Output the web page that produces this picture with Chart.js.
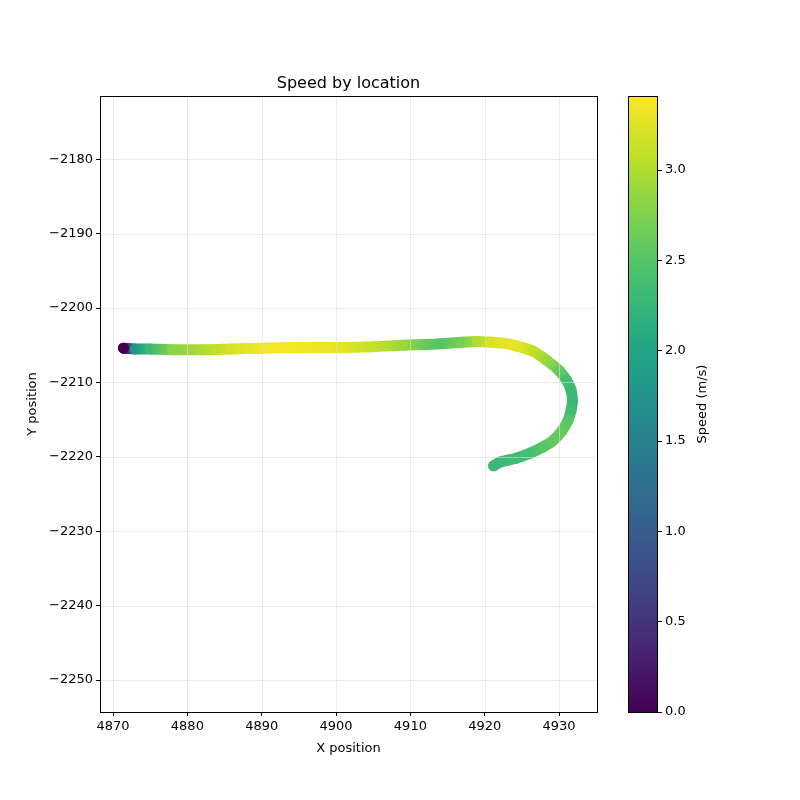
<!DOCTYPE html>
<html><head><meta charset="utf-8">
<script src="https://cdn.jsdelivr.net/npm/chart.js@4"></script>
<style>body{margin:0;background:#fff}#w{position:relative;width:800px;height:800px}
canvas{position:absolute;top:0}</style></head>
<body><div id="w"><canvas id="c" style="left:0" width="800" height="800"></canvas><canvas id="cb" style="left:600px" width="200" height="800"></canvas></div>
<script>
const xPos = [4871.4,4873,4875,4878,4882,4886,4890,4895,4900,4905,4909,4912,4914,4917,4919,4920.9,4923,4924.3,4926.5,4928.3,4930,4931,4931.6,4931.8,4931.6,4931.2,4930.4,4929.2,4927.8,4926.1,4924.2,4922.1,4921.2];
const yPos = [-2205.4,-2205.5,-2205.5,-2205.6,-2205.6,-2205.5,-2205.4,-2205.3,-2205.3,-2205.2,-2205.0,-2204.9,-2204.8,-2204.6,-2204.5,-2204.6,-2204.8,-2205.1,-2205.8,-2207.0,-2208.4,-2209.7,-2211.0,-2212.4,-2213.8,-2215.1,-2216.5,-2217.8,-2218.7,-2219.5,-2220.2,-2220.7,-2221.2];
const speed = [0.0,1.8,2.3,2.8,3.0,3.2,3.35,3.35,3.3,3.1,2.9,2.6,2.5,2.7,3.0,3.2,3.3,3.3,3.1,2.9,2.6,2.4,2.3,2.3,2.35,2.5,2.6,2.6,2.5,2.4,2.35,2.3,2.3];
const xTicks = [4870,4880,4890,4900,4910,4920,4930];
const yTicks = [-2250,-2240,-2230,-2220,-2210,-2200,-2190,-2180];
const cbTicks = [0,0.5,1,1.5,2,2.5,3];
const VMAX = 3.41;
const vir = [[68,1,84],[72,36,117],[65,68,135],[53,95,141],[42,120,142],[33,145,140],[34,168,132],[68,191,112],[122,209,81],[189,223,38],[253,231,37]];
function viridis(t){t=Math.max(0,Math.min(1,t))*(vir.length-1);const i=Math.min(Math.floor(t),vir.length-2),f=t-i;
 const c=vir[i].map((v,k)=>Math.round(v+(vir[i+1][k]-v)*f));return `rgb(${c[0]},${c[1]},${c[2]})`;}
const pts = xPos.map((x,i)=>({x,y:yPos[i]}));
const last = pts.length-1;
const minus = v => String(v).replace('-','\u2212');
const gridCol='rgba(220,220,220,0.6)';
const F='"DejaVu Sans", sans-serif';
Chart.defaults.font.family=F; Chart.defaults.font.size=13; Chart.defaults.color='#000';
let mainCtx=null;
function segColor(s){const i=s.p0DataIndex;if(!mainCtx)return viridis(speed[i]/VMAX);
 const g=mainCtx.createLinearGradient(s.p0.x,s.p0.y,s.p1.x,s.p1.y);
 g.addColorStop(0,viridis(speed[i]/VMAX));g.addColorStop(1,viridis(speed[i+1]/VMAX));return g;}
const deco={id:'deco',beforeInit(ch){mainCtx=ch.ctx;},afterDatasetsDraw(ch){const c=ch.ctx,a=ch.chartArea,xs=ch.scales.x,ys=ch.scales.y;
 c.save();c.strokeStyle=gridCol;c.lineWidth=1;
 xTicks.forEach(t=>{const p=Math.round(xs.getPixelForValue(t))+0.5;c.beginPath();c.moveTo(p,a.top);c.lineTo(p,a.bottom);c.stroke();});
 yTicks.forEach(t=>{const p=Math.round(ys.getPixelForValue(t))+0.5;c.beginPath();c.moveTo(a.left,p);c.lineTo(a.right,p);c.stroke();});
 c.strokeStyle='#000';c.strokeRect(a.left+0.5,a.top+0.5,a.right-a.left,a.bottom-a.top);
 c.fillStyle='#000';c.textAlign='center';c.font='16px '+F;c.fillText('Speed by location',(a.left+a.right)/2,88);
 c.font='13px '+F;c.fillText('X position',(a.left+a.right)/2,752);
 c.translate(36,(a.top+a.bottom)/2);c.rotate(-Math.PI/2);c.fillText('Y position',0,0);c.restore();}};
new Chart(document.getElementById('c'),{type:'scatter',
 data:{datasets:[
  {order:2,data:pts,showLine:true,tension:0.3,pointRadius:0,borderWidth:11,borderCapStyle:'round',borderJoinStyle:'round',
   segment:{borderColor:segColor},borderColor:viridis(0.9)},
  {order:1,data:[pts[0],pts[last]],pointRadius:5.5,pointBackgroundColor:[viridis(speed[0]/VMAX),viridis(speed[last]/VMAX)],pointBorderWidth:0}]},
 options:{responsive:false,animation:false,layout:{padding:{top:96,right:203,left:0,bottom:0}},
  plugins:{legend:{display:false},tooltip:{enabled:false}},
  scales:{
   x:{type:'linear',min:4868.25,max:4935.1,afterBuildTicks:s=>{s.ticks=xTicks.map(v=>({value:v}));},
    afterFit:s=>{s.height=88;},border:{display:false},
    grid:{display:true,drawOnChartArea:false,tickLength:4,tickColor:'#000'},ticks:{callback:v=>minus(v),maxRotation:0,padding:3}},
   y:{type:'linear',min:-2254.3,max:-2171.5,afterBuildTicks:s=>{s.ticks=yTicks.map(v=>({value:v}));},
    afterFit:s=>{s.width=100;},border:{display:false},
    grid:{display:true,drawOnChartArea:false,tickLength:4,tickColor:'#000'},ticks:{callback:v=>minus(v),padding:3}}}},
 plugins:[deco]});
const cbp={id:'cbp',beforeDatasetsDraw(ch){const c=ch.ctx,a=ch.chartArea;const g=c.createLinearGradient(0,a.bottom,0,a.top);
 for(let i=0;i<=20;i++)g.addColorStop(i/20,viridis(i/20));c.fillStyle=g;c.fillRect(a.left,a.top,a.right-a.left,a.bottom-a.top);
 c.strokeStyle='#000';c.lineWidth=1;c.strokeRect(a.left+0.5,a.top+0.5,a.right-a.left-1,a.bottom-a.top);
 c.save();c.fillStyle='#000';c.font='13px '+F;c.textAlign='center';c.translate(106,(a.top+a.bottom)/2);c.rotate(-Math.PI/2);c.fillText('Speed (m/s)',0,0);c.restore();}};
new Chart(document.getElementById('cb'),{type:'scatter',data:{datasets:[{data:[]}]},
 options:{responsive:false,animation:false,layout:{padding:{top:96,bottom:88,left:28,right:0}},
  plugins:{legend:{display:false},tooltip:{enabled:false}},
  scales:{x:{display:false,min:0,max:1},
   y:{position:'right',min:0,max:VMAX,afterBuildTicks:s=>{s.ticks=cbTicks.map(v=>({value:v}));},afterFit:s=>{s.width=142;},
    border:{display:false},grid:{drawOnChartArea:false,tickLength:4,tickColor:'#000'},ticks:{callback:v=>v.toFixed(1),padding:3}}}},
 plugins:[cbp]});
</script></body></html>
